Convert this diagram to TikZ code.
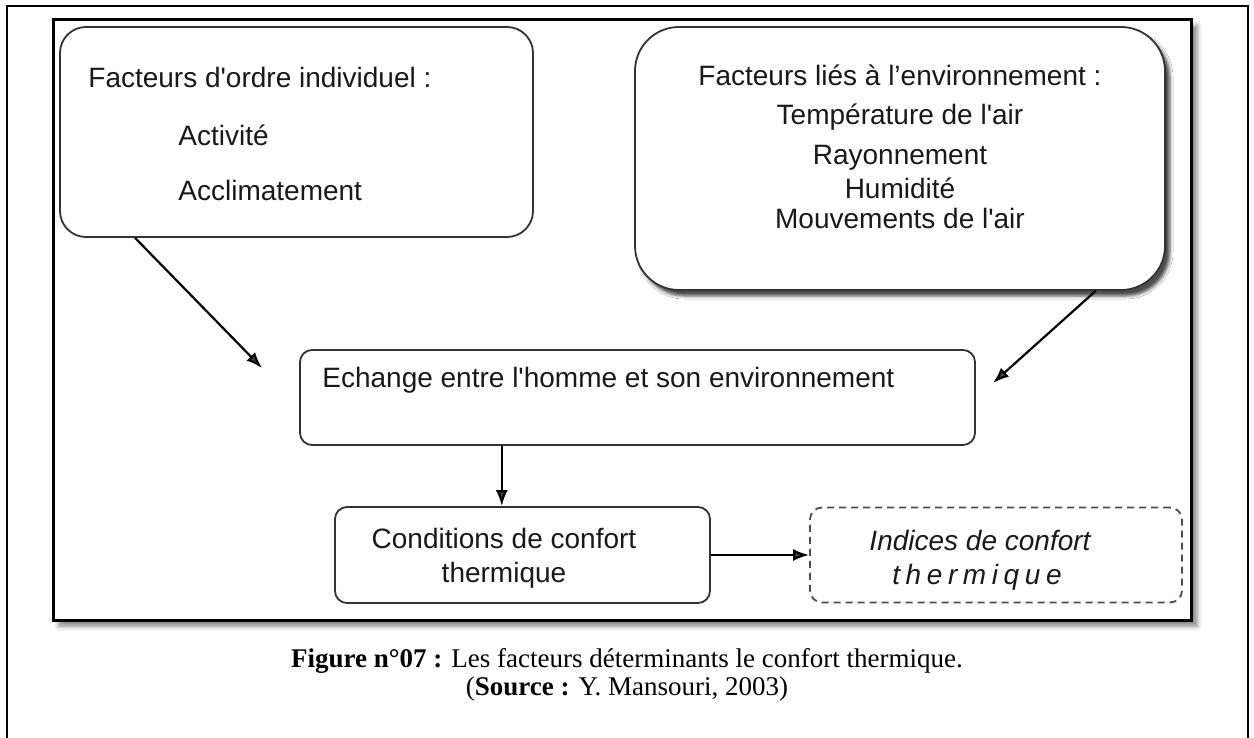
\documentclass[tikz,border=0pt]{standalone}
\usepackage{fontspec}
\setmainfont{Liberation Serif}
\newfontfamily\arialfont[Ligatures=TeXOff]{Liberation Sans}
\usetikzlibrary{arrows.meta,calc,shadows.blur}

\tikzset{
  boxline/.style={draw=black!80, line width=0.9pt, fill=white, inner sep=0pt},
  softshadow/.style={blur shadow={shadow xshift=3pt, shadow yshift=-3pt, shadow blur radius=2.5pt, shadow opacity=50}},
  darkshadow/.style={blur shadow={shadow xshift=2.5pt, shadow yshift=-3pt, shadow blur radius=1.5pt, shadow opacity=70}},
  txt/.style={font=\arialfont\fontsize{14}{17}\selectfont, text=black!90, inner sep=0pt},
  arr/.style={-{Latex[length=8pt,width=6pt]}, line width=1.1pt},
}

\begin{document}
\begin{tikzpicture}[x=0.5pt,y=-0.5pt]
        \useasboundingbox (0,0) rectangle (1254,738);
        % page frame, open at the bottom
        \draw[line width=1pt] (7,738) -- (7,6) -- (1248,6) -- (1248,738);
        % figure frame
        \draw[line width=1.5pt, fill=white, softshadow] (53,20) rectangle (1191,620);

        % boxes
        \node[boxline, rounded corners=13pt, minimum width=236.5pt, minimum height=105pt] (indiv) at (296.5,132) {};
        \node[boxline, rounded corners=22pt, minimum width=265pt, minimum height=131.5pt, darkshadow] (env) at (900,158.5) {};
        \node[boxline, rounded corners=6pt, minimum width=337.5pt, minimum height=47.5pt] (echange) at (637.5,397.5) {};
        \node[boxline, rounded corners=6pt, minimum width=187.5pt, minimum height=48pt] (cond) at (522.5,555) {};
        \node[boxline, draw=black!70, dash pattern=on 3.5pt off 2.5pt, rounded corners=6pt, minimum width=186pt, minimum height=47.5pt] (indices) at (996,555) {};

        % texts
        \node[txt, anchor=west] (indivtitle) at (88,77) {Facteurs d'ordre individuel :};
        \node[txt, anchor=west] (activite) at (178,135) {Activité};
        \node[txt, anchor=west] (acclim) at (178,190) {Acclimatement};
        \node[txt] (envtitle) at (900,75) {Facteurs liés à l’environnement :};
        \node[txt] (temp) at (900,117) {Température de l'air};
        \node[txt] (rayon) at (900,158) {Rayonnement};
        \node[txt] (humid) at (900,188) {Humidité};
        \node[txt] (mouv) at (900,218) {Mouvements de l'air};
        \node[txt, anchor=west] (echtext) at (322,380) {Echange entre l'homme et son environnement};
        \node[txt] (condtext1) at (504,538) {Conditions de confort};
        \node[txt] (condtext2) at (504,575) {thermique};
        \node[txt, font=\arialfont\itshape\fontsize{14}{17}\selectfont] (indtext1) at (980,540) {Indices de confort};
        \node[txt, font=\arialfont\itshape\fontsize{14}{17}\selectfont\addfontfeatures{LetterSpace=20}] (indtext2) at (977,577) {thermique};

        % connectors
        \coordinate (tipleft) at (262,368);
        \coordinate (tipright) at (993,383);
        \coordinate (condtop) at ($(cond.north west)!0.445!(cond.north east)$);
        \draw[arr] ($(indiv.south west)!0.16!(indiv.south east)$) -- (tipleft);
        \draw[arr] ($(env.south west)!0.868!(env.south east)$) -- (tipright);
        \draw[arr] (echange.south -| condtop) -- (condtop);
        \draw[arr] (cond.east) -- (indices.west);

        % caption
        \node[font=\fontsize{13.5}{16}\selectfont, inner sep=0pt] (cap1) at (627,661) {\textbf{Figure n°07 :} Les facteurs déterminants le confort thermique.};
        \node[font=\fontsize{13.5}{16}\selectfont, inner sep=0pt] (cap2) at (627,689) {(\textbf{Source :} Y. Mansouri, 2003)};
\end{tikzpicture}
\end{document}
